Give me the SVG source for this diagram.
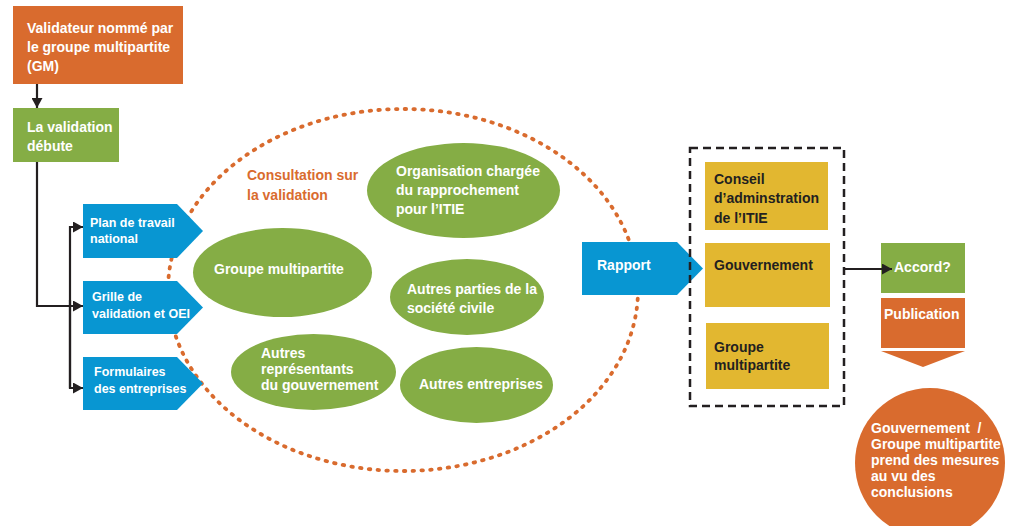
<svg xmlns="http://www.w3.org/2000/svg" width="1014" height="526" viewBox="0 0 1014 526">
<defs>
<marker id="ah" markerUnits="userSpaceOnUse" markerWidth="10" markerHeight="11" refX="10" refY="5.5" orient="auto">
<path d="M0,0 L10,5.5 L0,11 z" fill="#231F20"/>
</marker>
<style>
text{font-family:"Liberation Sans",Arial,sans-serif;font-weight:bold;font-size:14px}
.w{fill:#ffffff}
.d{fill:#231F20}
.o{fill:#D96B2E}
.sm{font-size:12.5px}
.orange{fill:#D96B2E}
.green{fill:#85AD45}
.blue{fill:#0896D2}
.yellow{fill:#E2B730}
.conn{stroke:#231F20;stroke-width:2.2;fill:none}
</style>
</defs>
<rect width="1014" height="526" fill="#ffffff"/>

<g id="consultation">
<ellipse cx="403" cy="290" rx="235" ry="181" fill="none" stroke="#D96B2E" stroke-width="3.8" stroke-linecap="round" stroke-dasharray="1.5 7.3"/>
<text class="o" x="247" y="180">Consultation sur</text>
<text class="o" x="247" y="200">la validation</text>
</g>

<g id="validateur">
<rect class="orange" x="13" y="6" width="170" height="78"/>
<text class="w" x="27" y="33">Validateur nommé par</text>
<text class="w" x="27" y="52">le groupe multipartite</text>
<text class="w" x="27" y="71">(GM)</text>
</g>

<g id="validation-debute">
<rect class="green" x="13" y="108" width="106" height="54"/>
<text class="w" x="27" y="132">La validation</text>
<text class="w" x="27" y="151">débute</text>
</g>

<g id="plan-travail">
<polygon class="blue" points="83,204 177,204 203,231 177,258 83,258"/>
<text class="w sm" x="90" y="227">Plan de travail</text>
<text class="w sm" x="90" y="243">national</text>
</g>

<g id="grille">
<polygon class="blue" points="83,281 177,281 203,307.5 177,334 83,334"/>
<text class="w sm" x="92" y="301">Grille de</text>
<text class="w sm" x="92" y="318">validation et OEI</text>
</g>

<g id="formulaires">
<polygon class="blue" points="83,357 177,357 203,383.5 177,410 83,410"/>
<text class="w sm" x="94" y="376">Formulaires</text>
<text class="w sm" x="94" y="393">des entreprises</text>
</g>

<g id="organisation">
<ellipse class="green" cx="463.5" cy="190.5" rx="96.5" ry="47.5"/>
<text class="w" x="396" y="176">Organisation chargée</text>
<text class="w" x="396" y="195">du rapprochement</text>
<text class="w" x="396" y="214">pour l’ITIE</text>
</g>

<g id="groupe-multipartite-ell">
<ellipse class="green" cx="282.5" cy="272.5" rx="89.5" ry="44.5"/>
<text class="w" x="214" y="274">Groupe multipartite</text>
</g>

<g id="autres-parties">
<ellipse class="green" cx="467" cy="297" rx="77" ry="38"/>
<text class="w" x="407" y="294">Autres parties de la</text>
<text class="w" x="407" y="313">société civile</text>
</g>

<g id="autres-representants">
<ellipse class="green" cx="313.5" cy="372" rx="82.5" ry="38"/>
<text class="w" x="261" y="358" font-size="13.5">Autres</text>
<text class="w" x="261" y="374" font-size="13.5">représentants</text>
<text class="w" x="261" y="390" font-size="13.5">du gouvernement</text>
</g>

<g id="autres-entreprises">
<ellipse class="green" cx="476.5" cy="385" rx="76.5" ry="38"/>
<text class="w" x="419" y="389">Autres entreprises</text>
</g>

<g id="rapport">
<polygon class="blue" points="582,242 677,242 703,268.5 677,295 582,295"/>
<text class="w" x="597" y="270">Rapport</text>
</g>

<g id="destinataires">
<rect x="690" y="148" width="154" height="258" fill="none" stroke="#231F20" stroke-width="2.5" stroke-dasharray="8 5"/>
</g>

<g id="conseil">
<rect class="yellow" x="705" y="162" width="123" height="68"/>
<text class="d" x="714" y="184">Conseil</text>
<text class="d" x="714" y="203">d’adminstration</text>
<text class="d" x="714" y="223">de l’ITIE</text>
</g>

<g id="gouvernement">
<rect class="yellow" x="705" y="243" width="125" height="64"/>
<text class="d" x="714" y="270">Gouvernement</text>
</g>

<g id="groupe-multipartite-box">
<rect class="yellow" x="706" y="323" width="123" height="66"/>
<text class="d" x="714" y="352">Groupe</text>
<text class="d" x="714" y="370">multipartite</text>
</g>

<g id="accord">
<rect class="green" x="881" y="243" width="84" height="50"/>
<text class="w" x="894" y="272" font-size="13">Accord?</text>
</g>

<g id="publication">
<rect class="orange" x="881" y="298" width="84" height="50"/>
<polygon class="orange" points="881,351 965,351 923,367"/>
<text class="w" x="884" y="319">Publication</text>
</g>

<g id="mesures">
<circle class="orange" cx="930" cy="463" r="75"/>
<text class="w" x="871" y="433" font-size="13.2" xml:space="preserve">Gouvernement  /</text>
<text class="w" x="871" y="449" font-size="13.2">Groupe multipartite</text>
<text class="w" x="871" y="465" font-size="13.2">prend des mesures</text>
<text class="w" x="871" y="481" font-size="13.2">au vu des</text>
<text class="w" x="871" y="497" font-size="13.2">conclusions</text>
</g>

<g id="connectors">
<path class="conn" d="M37,84 V108" marker-end="url(#ah)"/>
<path class="conn" d="M37,162 V306 H83" marker-end="url(#ah)"/>
<path class="conn" d="M70,388 V227 H83" marker-end="url(#ah)"/>
<path class="conn" d="M70,300 V388 H83" marker-end="url(#ah)"/>
<path class="conn" d="M845,269 H892" marker-end="url(#ah)"/>
</g>
</svg>
